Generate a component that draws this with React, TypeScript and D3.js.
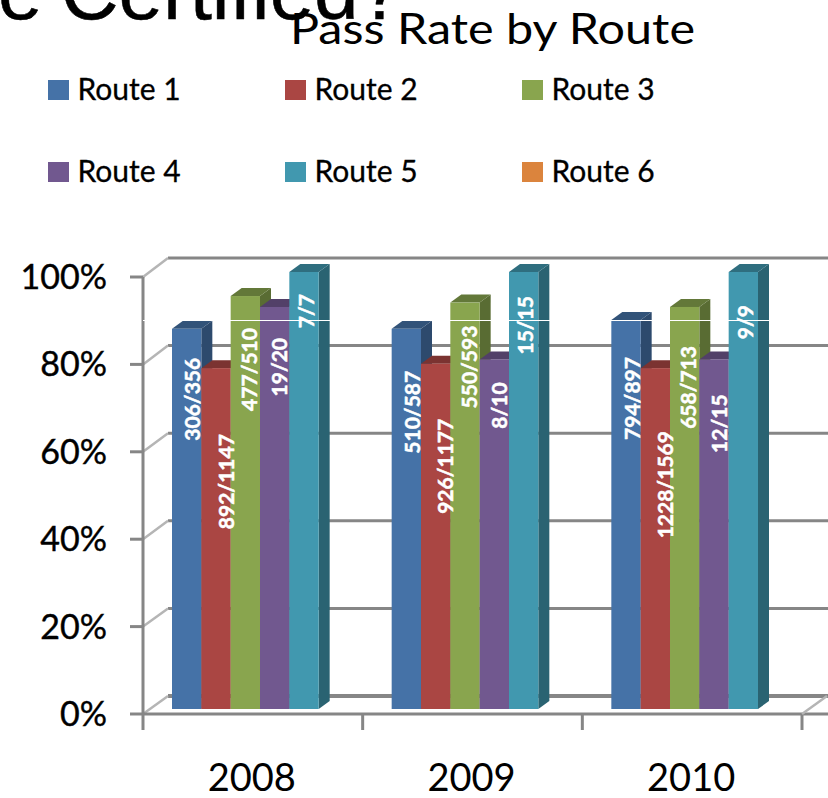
import React, { useEffect, useRef } from 'react';
import * as d3 from 'd3';

const years = ['2008', '2009', '2010'];
const routes = ['Route 1', 'Route 2', 'Route 3', 'Route 4', 'Route 5', 'Route 6'];
const colors = ['#4572A7', '#AA4643', '#89A54E', '#71588F', '#4198AF', '#DB843D'];
const ticks = [0, 20, 40, 60, 80, 100];

// percent, route 1-5 (route 6 has no bars)
const rate2008 = [87, 78, 94.5, 92, 100];
const rate2009 = [87, 79, 93, 80, 100];
const rate2010 = [89, 78, 92, 80, 100];
const rates = [rate2008, rate2009, rate2010];

const labels2008 = ['306/356', '892/1147', '477/510', '19/20', '7/7'];
const labels2009 = ['510/587', '926/1177', '550/593', '8/10', '15/15'];
const labels2010 = ['794/897', '1228/1569', '658/713', '12/15', '9/9'];
const barLabels = [labels2008, labels2009, labels2010];

// how far each label sits below its bar top, and right of the bar centre
const labelDrop = [
  [29, 66, 32, 31, 22],
  [42, 55, 23, 23, 24],
  [37, 63, 39, 35, 33],
];
const labelShift = [5, 9, 3, 4, 1];

const W = 828;
const H = 798;
const depthX = 11;
const depthY = 8;
const FONT = 'Lato, "Open Sans", sans-serif';

function App() {
  const svgRef = useRef<SVGSVGElement>(null);

  useEffect(() => {
    const svg = d3.select(svgRef.current);
    svg.selectAll('*').remove();

    const x0 = d3.scaleBand().domain(years).range([143, 802]);
    const x1 = d3.scaleBand().domain(routes).range([29, 205]);
    const yBar = d3.scaleLinear().domain([0, 100]).range([709, 272]);
    const yWall = d3.scaleLinear().domain([0, 100]).range([696, 258]);
    const yAxis = d3.scaleLinear().domain([0, 100]).range([714, 277]);

    const grid = '#868686';

    // back wall gridlines
    svg.append('g').selectAll('line').data(ticks).enter().append('line')
      .attr('x1', 168).attr('x2', W)
      .attr('y1', d => yWall(d)).attr('y2', d => yWall(d))
      .attr('stroke', grid).attr('stroke-width', d => (d === 0 ? 4 : 3));

    // side wall diagonals
    svg.append('g').selectAll('line').data(ticks).enter().append('line')
      .attr('x1', 143).attr('x2', 168)
      .attr('y1', d => yAxis(d)).attr('y2', d => yWall(d))
      .attr('stroke', '#b5b5b5').attr('stroke-width', 2.5);

    // left axis
    svg.append('line')
      .attr('x1', 143).attr('x2', 143)
      .attr('y1', yAxis(100)).attr('y2', 730)
      .attr('stroke', grid).attr('stroke-width', 3);
    svg.append('g').selectAll('line').data(ticks).enter().append('line')
      .attr('x1', 130).attr('x2', 143)
      .attr('y1', d => yAxis(d)).attr('y2', d => yAxis(d))
      .attr('stroke', grid).attr('stroke-width', 3);

    // bottom axis
    svg.append('line')
      .attr('x1', 143).attr('x2', W)
      .attr('y1', yAxis(0)).attr('y2', yAxis(0))
      .attr('stroke', grid).attr('stroke-width', 3);
    svg.append('g').selectAll('line').data(years).enter().append('line')
      .attr('x1', d => (x0(d) as number) + x0.bandwidth())
      .attr('x2', d => (x0(d) as number) + x0.bandwidth())
      .attr('y1', yAxis(0)).attr('y2', 730)
      .attr('stroke', grid).attr('stroke-width', 3);
    svg.append('line')
      .attr('x1', 802).attr('x2', 827)
      .attr('y1', yAxis(0)).attr('y2', yWall(0))
      .attr('stroke', '#b5b5b5').attr('stroke-width', 2.5);

    // bars, left to right so each one covers the side of the last
    years.forEach((year, yi) => {
      const g = svg.append('g').attr('transform', `translate(${x0(year)},0)`);
      rates[yi].forEach((v, ri) => {
        const bx = x1(routes[ri]) as number;
        const bw = x1.bandwidth();
        const top = yBar(v);
        const base = yBar(0);
        const c = d3.rgb(colors[ri]);
        const side = d3.path();
        side.moveTo(bx + bw, top);
        side.lineTo(bx + bw + depthX, top - depthY);
        side.lineTo(bx + bw + depthX, base - depthY);
        side.lineTo(bx + bw, base);
        side.closePath();
        g.append('path').attr('d', side.toString()).attr('fill', c.darker(1.2).formatHex());
        const cap = d3.path();
        cap.moveTo(bx, top);
        cap.lineTo(bx + depthX, top - depthY);
        cap.lineTo(bx + bw + depthX, top - depthY);
        cap.lineTo(bx + bw, top);
        cap.closePath();
        g.append('path').attr('d', cap.toString()).attr('fill', c.darker(0.9).formatHex());
        g.append('rect')
          .attr('x', bx).attr('y', top)
          .attr('width', bw).attr('height', base - top)
          .attr('fill', c.formatHex());
      });
    });

    // data labels go above all the bars
    years.forEach((year, yi) => {
      const g = svg.append('g').attr('transform', `translate(${x0(year)},0)`);
      barLabels[yi].forEach((t, ri) => {
        const cx = (x1(routes[ri]) as number) + x1.bandwidth() / 2 + labelShift[ri];
        const ty = yBar(rates[yi][ri]) + labelDrop[yi][ri];
        g.append('text')
          .attr('transform', `translate(${cx},${ty}) rotate(-90)`)
          .attr('text-anchor', 'end')
          .attr('dominant-baseline', 'central')
          .attr('fill', '#fff')
          .attr('stroke', '#fff')
          .attr('stroke-width', 0.5)
          .attr('font-family', FONT)
          .attr('font-weight', 700)
          .attr('font-size', 21)
          .text(t);
      });
    });

    // stray white scan line from the source image
    svg.append('line')
      .attr('x1', 143).attr('x2', W)
      .attr('y1', 320.5).attr('y2', 320.5)
      .attr('stroke', '#fff').attr('stroke-width', 1.2);

    // y labels
    svg.append('g').selectAll('text').data(ticks).enter().append('text')
      .attr('x', 107)
      .attr('y', d => yAxis(d) + 12)
      .attr('text-anchor', 'end')
      .attr('font-family', FONT)
      .attr('font-size', 34)
      .attr('fill', '#000')
      .attr('stroke', '#000')
      .attr('stroke-width', 0.4)
      .text(d => `${d}%`);

    // x labels
    svg.append('g').selectAll('text').data(years).enter().append('text')
      .attr('x', d => (x0(d) as number) + x0.bandwidth() / 2 - 1)
      .attr('y', 791)
      .attr('text-anchor', 'middle')
      .attr('font-family', FONT)
      .attr('font-size', 38)
      .attr('fill', '#000')
      .text(d => d);

    // legend, three per row
    const legendX = d3.scaleLinear().domain([0, 1]).range([48, 285]);
    const legendY = d3.scaleLinear().domain([0, 1]).range([80, 162]);
    const item = svg.append('g').selectAll('g').data(routes).enter().append('g')
      .attr('transform', (_, i) => `translate(${legendX(i % 3)},${legendY(Math.floor(i / 3))})`);
    item.append('rect')
      .attr('width', 21).attr('height', 20)
      .attr('fill', (_, i) => colors[i]);
    item.append('text')
      .attr('x', 29.5).attr('y', 20)
      .attr('font-family', FONT)
      .attr('font-size', 30)
      .attr('fill', '#000')
      .attr('stroke', '#000')
      .attr('stroke-width', 0.3)
      .text(d => d);

    // slide heading clipped by the top of the picture
    svg.append('text')
      .attr('x', -2).attr('y', 19)
      .attr('word-spacing', -4)
      .attr('font-family', '"Liberation Sans", Arial, sans-serif')
      .attr('font-size', 80)
      .attr('fill', '#000')
      .attr('stroke', '#000')
      .attr('stroke-width', 0.5)
      .text('e Certified?');

    // the source title is stretched sideways, so fit it to its width
    svg.append('text')
      .attr('x', 290).attr('y', 44)
      .attr('font-family', FONT)
      .attr('font-size', 43)
      .attr('textLength', 405)
      .attr('lengthAdjust', 'spacingAndGlyphs')
      .attr('fill', '#000')
      .text('Pass Rate by Route');
  }, []);

  return (
    <svg
      ref={svgRef}
      width={W}
      height={H}
      style={{ position: 'absolute', left: 0, top: 0, background: '#fff' }}
    />
  );
}

export default App;
